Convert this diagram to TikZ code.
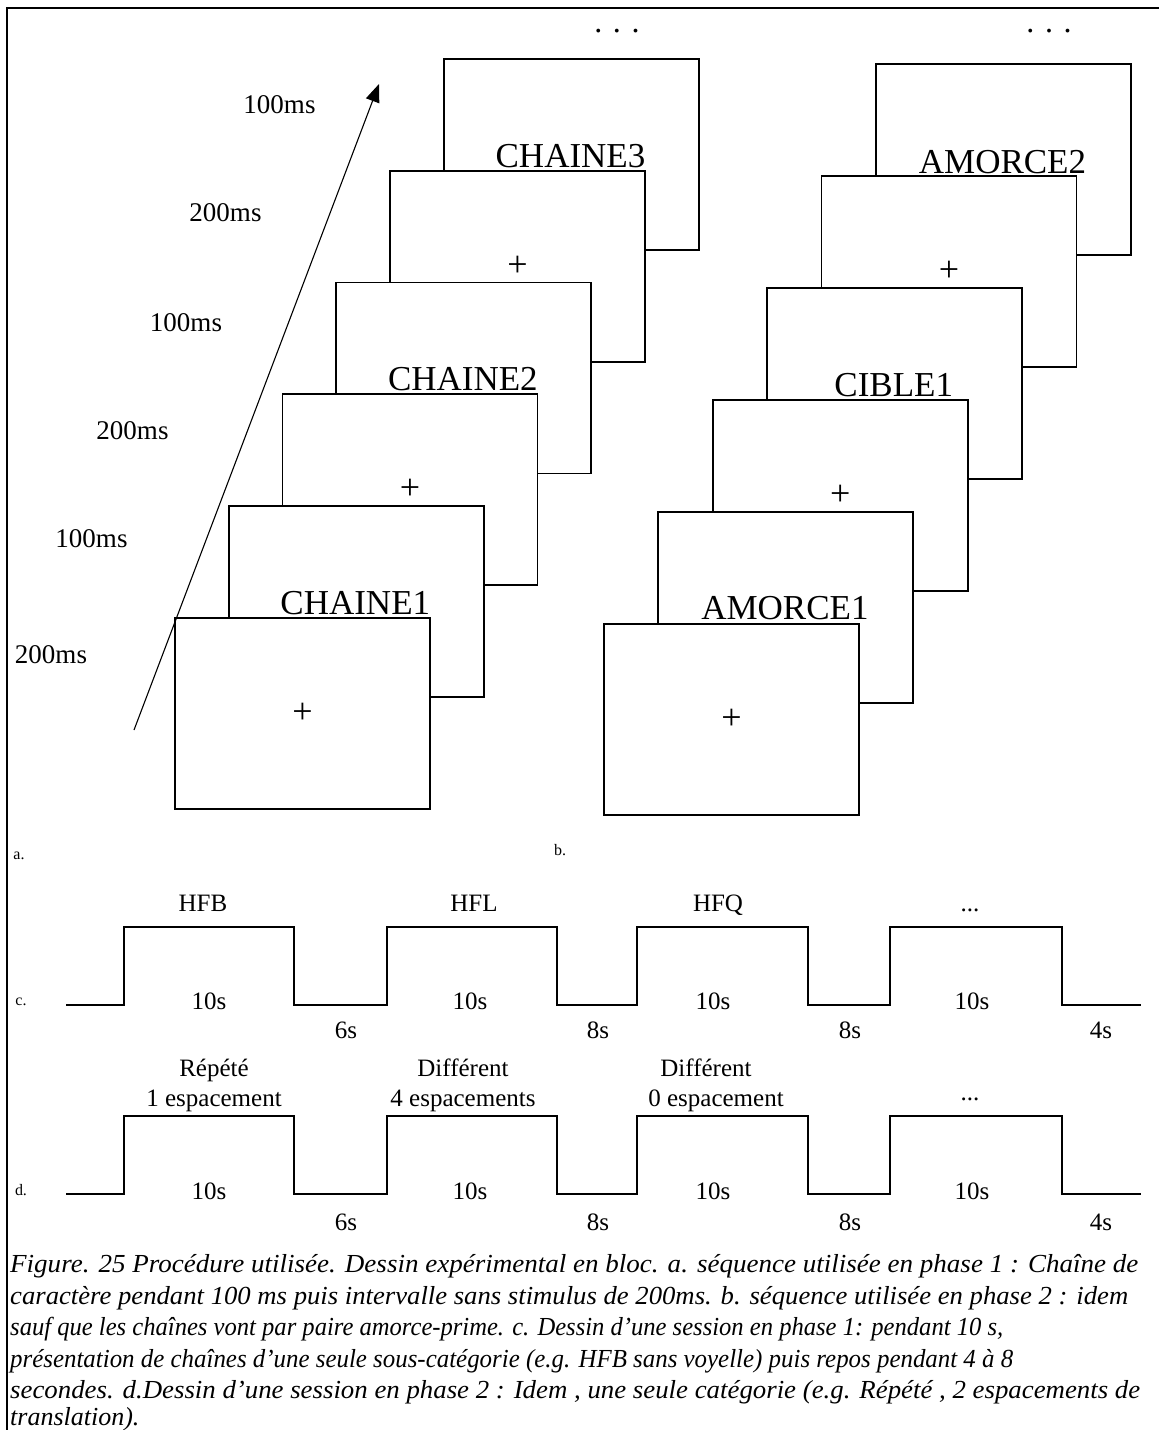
\documentclass[tikz,border=0pt]{standalone}
\usepackage{fontspec}
\setmainfont{Liberation Serif}
\usetikzlibrary{arrows.meta}
\newcommand\fsz[1]{\fontsize{#1}{#1}\selectfont}
\tikzset{
  frame/.style={draw, fill=white, line width=1.8pt, minimum width=255pt, minimum height=191pt, inner sep=0pt, anchor=north west},
  word/.style={inner sep=0pt, anchor=base, font=\fsz{35}},
  cross/.style={inner sep=0pt, font=\fsz{36}},
  tlabel/.style={inner sep=0pt, anchor=base, font=\fsz{27}},
  wlabel/.style={inner sep=0pt, anchor=base, font=\fsz{25}},
  small/.style={inner sep=0pt, anchor=base, font=\fsz{16}},
  dots/.style={inner sep=0pt, anchor=base, font=\fsz{32}},
  capt/.style={inner sep=0pt, anchor=base west, font=\fsz{26}\itshape},
  wave/.style={line width=1.8pt},
}
\begin{document}
\begin{tikzpicture}[x=1pt,y=-1pt]
\useasboundingbox (0,0) rectangle (1159,1430);
% outer frame (left and top)
\draw[line width=1.5pt] (7,1430) -- (7,8) -- (1159,8);

% ---------- left stack (back to front) ----------
\node[frame] (L6) at (443,58) {};
\node[word] (tL6) at (570.5,167) {CHAINE3};
\node[frame] (L5) at (389.2,169.8) {};
\node[cross] (tL5) at (L5.center) {+};
\node[frame] (L4) at (335.4,281.6) {};
\node[word] (tL4) at (462.9,390.4) {CHAINE2};
\node[frame] (L3) at (281.6,393.4) {};
\node[cross] (tL3) at (L3.center) {+};
\node[frame] (L2) at (227.8,505.2) {};
\node[word] (tL2) at (355.3,614) {CHAINE1};
\node[frame] (L1) at (174,617) {};
\node[cross] (tL1) at (L1.center) {+};

% ---------- right stack (back to front) ----------
\node[frame] (R6) at (875,63) {};
\node[word] (tR6) at (1002.5,173) {AMORCE2};
\node[frame] (R5) at (820.6,175) {};
\node[cross] (tR5) at (R5.center) {+};
\node[frame] (R4) at (766.2,287) {};
\node[word] (tR4) at (893.7,396) {CIBLE1};
\node[frame] (R3) at (711.8,399) {};
\node[cross] (tR3) at (R3.center) {+};
\node[frame] (R2) at (657.4,511) {};
\node[word] (tR2) at (784.9,619) {AMORCE1};
\node[frame] (R1) at (603,623) {};
\node[cross] (tR1) at (R1.center) {+};

% ellipses on top
\node[dots] (dL) at (617,32) {.\,\,.\,\,.};
\node[dots] (dR) at (1049,32) {.\,\,.\,\,.};

% time arrow
\coordinate (arrS) at (134,730);
\coordinate (arrE) at (379,84);
\draw[line width=1.1pt, -{Triangle[length=18pt,width=14pt]}] (arrS) -- (arrE);

% time labels
\node[tlabel] (t1) at (279.5,113) {100ms};
\node[tlabel] (t2) at (225.5,221) {200ms};
\node[tlabel] (t3) at (186,331) {100ms};
\node[tlabel] (t4) at (132.5,439) {200ms};
\node[tlabel] (t5) at (91.5,547) {100ms};
\node[tlabel] (t6) at (51,663) {200ms};

% panel letters
\node[small] (la) at (19,859) {a.};
\node[small] (lb) at (560,855) {b.};
\node[small] (lc) at (21,1005) {c.};
\node[small] (ld) at (21,1195) {d.};

% ---------- waveform c ----------
\draw[wave] (66,1005) -- (124,1005) -- (124,927) -- (294,927) -- (294,1005)
  -- (387,1005) -- (387,927) -- (557,927) -- (557,1005)
  -- (637,1005) -- (637,927) -- (808,927) -- (808,1005)
  -- (890,1005) -- (890,927) -- (1062,927) -- (1062,1005) -- (1141,1005);
\node[wlabel] (c1) at (203,911) {HFB};
\node[wlabel] (c2) at (474,911) {HFL};
\node[wlabel] (c3) at (718,911) {HFQ};
\node[wlabel] (c4) at (970,911) {...};
\node[wlabel] (c10a) at (209,1009) {10s};
\node[wlabel] (c10b) at (470,1009) {10s};
\node[wlabel] (c10c) at (713,1009) {10s};
\node[wlabel] (c10d) at (972,1009) {10s};
\node[wlabel] (cp1) at (346,1038) {6s};
\node[wlabel] (cp2) at (598,1038) {8s};
\node[wlabel] (cp3) at (850,1038) {8s};
\node[wlabel] (cp4) at (1101,1038) {4s};

% ---------- waveform d ----------
\draw[wave] (66,1194) -- (124,1194) -- (124,1116) -- (294,1116) -- (294,1194)
  -- (387,1194) -- (387,1116) -- (557,1116) -- (557,1194)
  -- (637,1194) -- (637,1116) -- (808,1116) -- (808,1194)
  -- (890,1194) -- (890,1116) -- (1062,1116) -- (1062,1194) -- (1141,1194);
\node[wlabel] (d1a) at (214,1076) {Répété};
\node[wlabel] (d1b) at (214,1106) {1 espacement};
\node[wlabel] (d2a) at (463,1076) {Différent};
\node[wlabel] (d2b) at (463,1106) {4 espacements};
\node[wlabel] (d3a) at (706,1076) {Différent};
\node[wlabel] (d3b) at (716,1106) {0 espacement};
\node[wlabel] (d4) at (970,1100) {...};
\node[wlabel] (d10a) at (209,1199) {10s};
\node[wlabel] (d10b) at (470,1199) {10s};
\node[wlabel] (d10c) at (713,1199) {10s};
\node[wlabel] (d10d) at (972,1199) {10s};
\node[wlabel] (dp1) at (346,1230) {6s};
\node[wlabel] (dp2) at (598,1230) {8s};
\node[wlabel] (dp3) at (850,1230) {8s};
\node[wlabel] (dp4) at (1101,1230) {4s};

% ---------- caption ----------
\node[capt] (cap1) at (10,1272) {\resizebox{1128pt}{\height}{Figure. 25 Procédure utilisée. Dessin expérimental en bloc. a. séquence utilisée en phase 1 : Chaîne de}};
\node[capt] (cap2) at (10,1304) {\resizebox{1118pt}{\height}{caractère pendant 100 ms puis intervalle sans stimulus de 200ms. b. séquence utilisée en phase 2 : idem}};
\node[capt] (cap3) at (10,1335) {\resizebox{993pt}{\height}{sauf que les chaînes vont par paire amorce-prime. c. Dessin d’une session en phase 1: pendant 10 s,}};
\node[capt] (cap4) at (10,1367) {\resizebox{1003pt}{\height}{présentation de chaînes d’une seule sous-catégorie (e.g. HFB sans voyelle) puis repos pendant 4 à 8}};
\node[capt] (cap5) at (10,1398) {\resizebox{1130pt}{\height}{secondes. d.Dessin d’une session en phase 2 : Idem , une seule catégorie (e.g. Répété , 2 espacements de}};
\node[capt] (cap6) at (10,1425) {translation).};
\end{tikzpicture}
\end{document}
